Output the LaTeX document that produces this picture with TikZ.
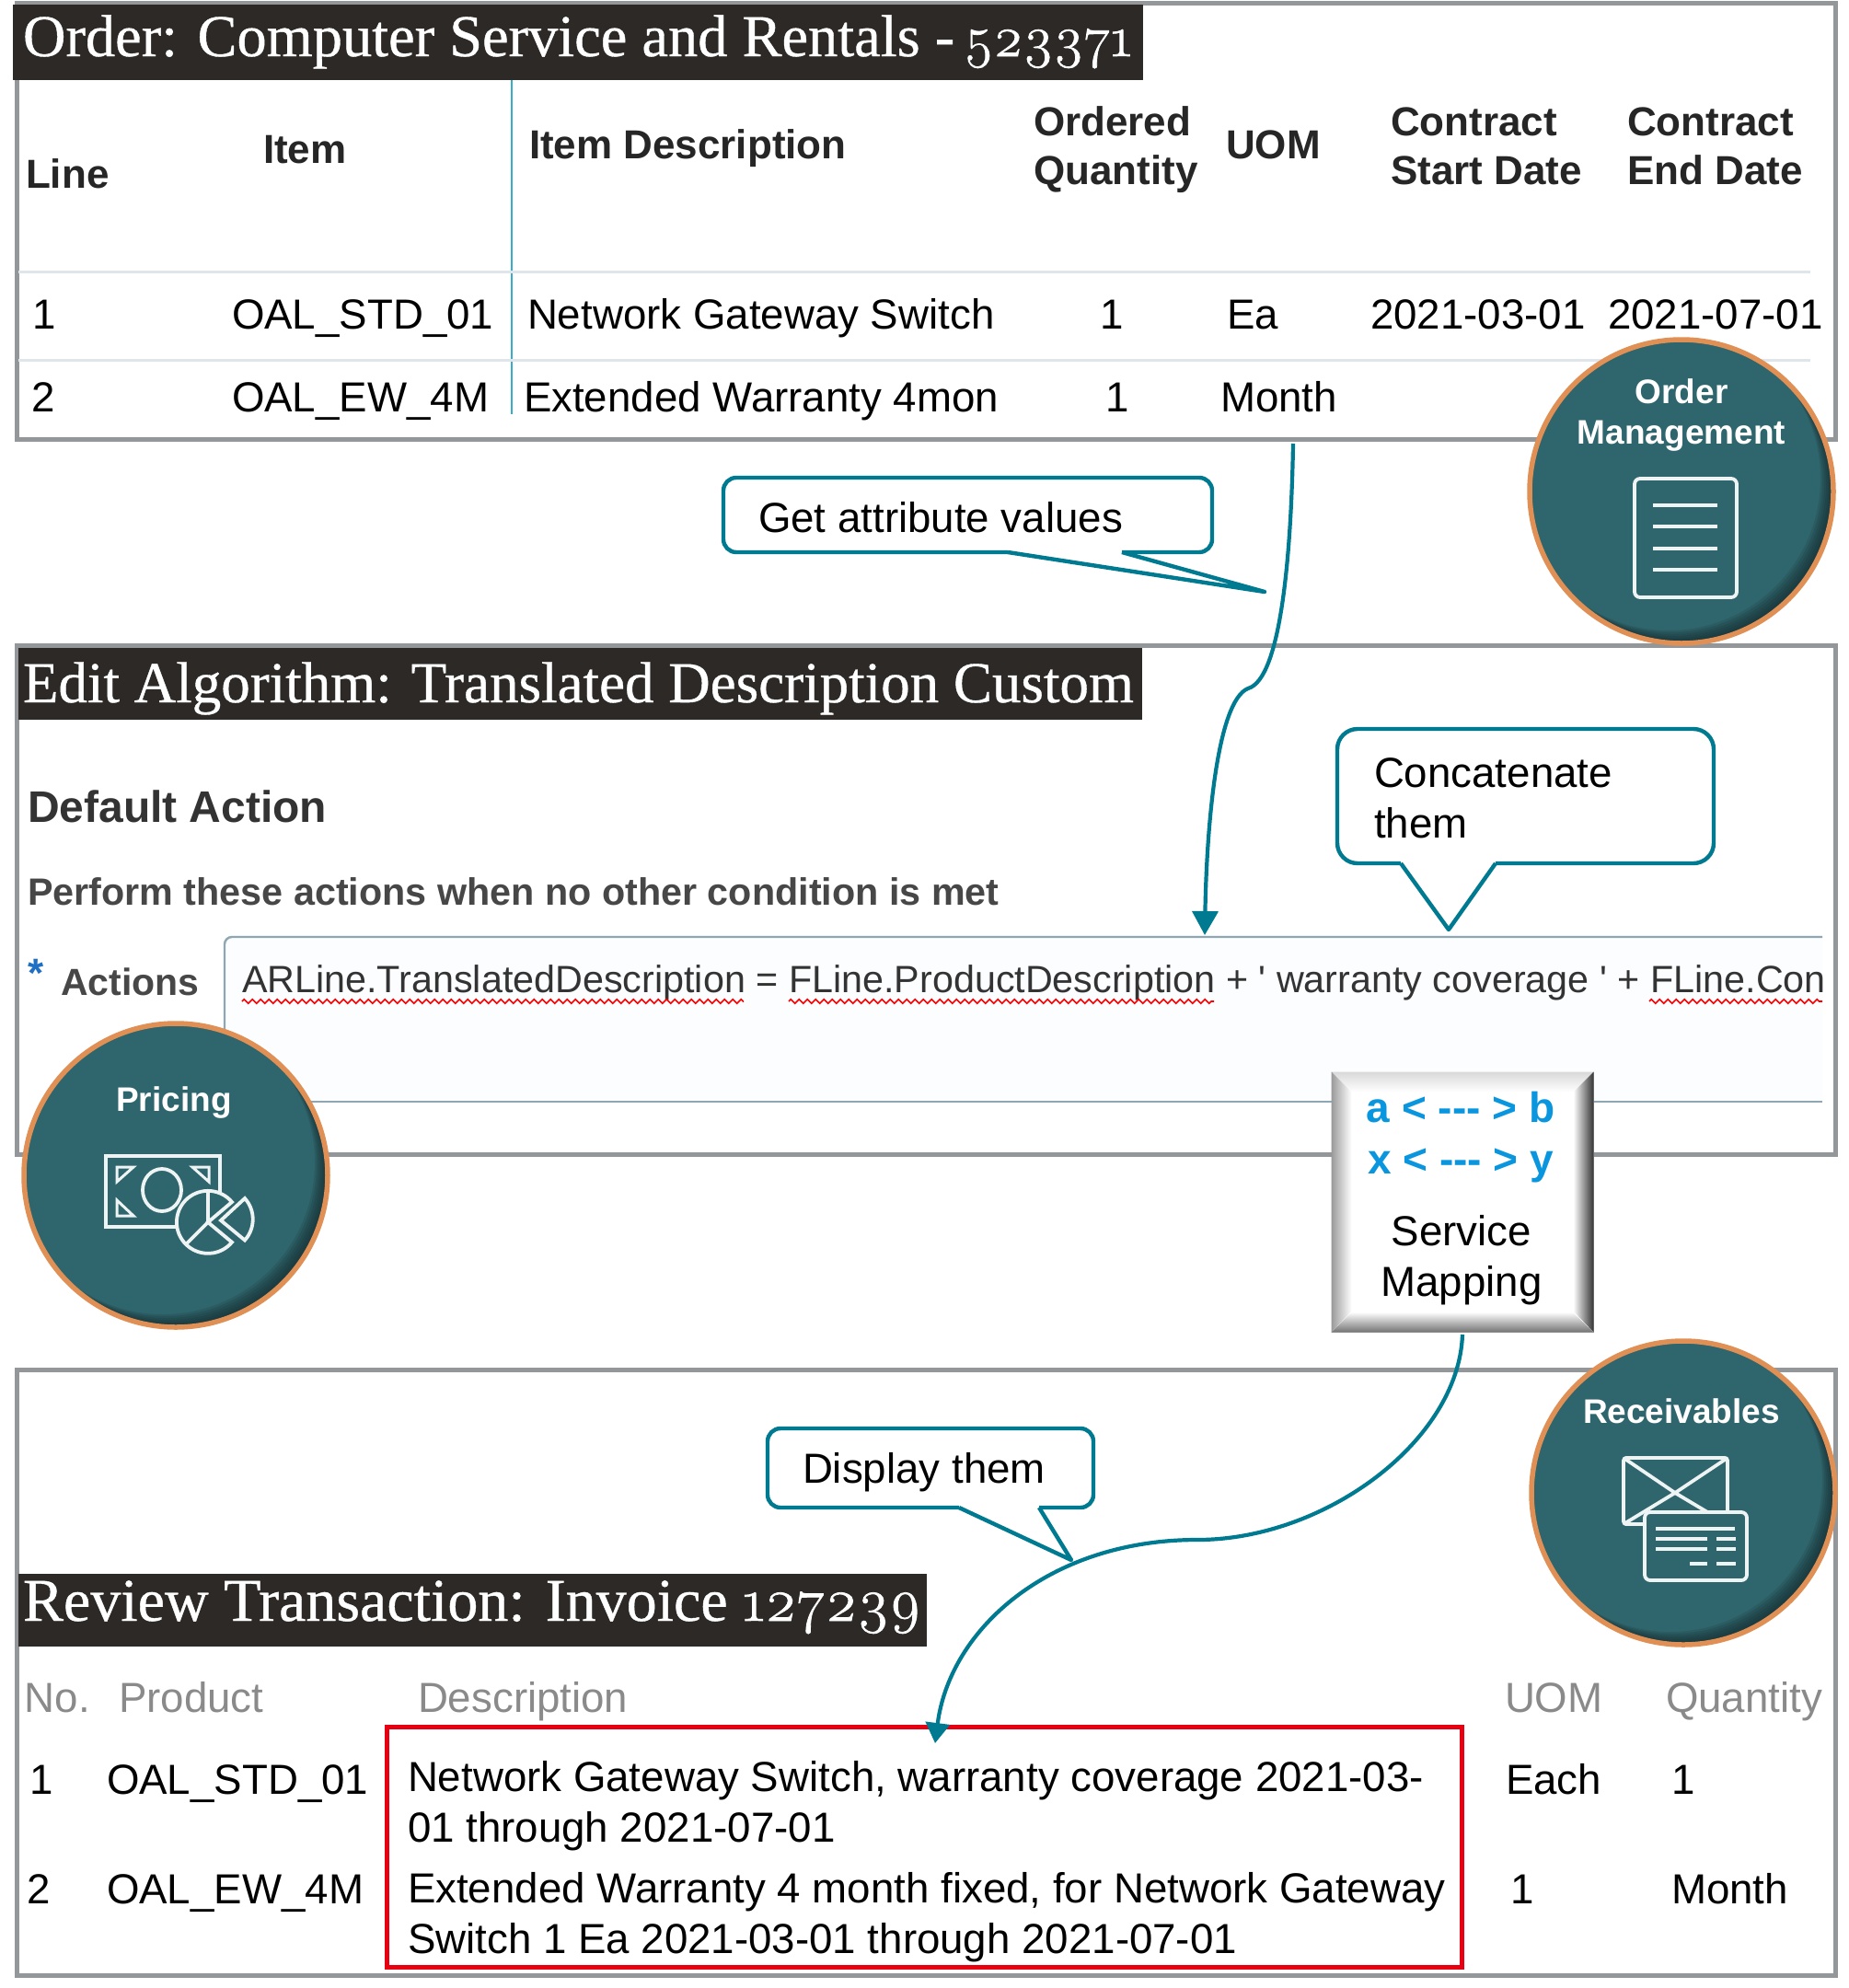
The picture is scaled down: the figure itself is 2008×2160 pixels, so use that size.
\documentclass[tikz,border=0pt]{standalone}
\usepackage{fontspec}
\setmainfont{Liberation Sans}
\newfontfamily\plainsans{Liberation Sans}
\newfontfamily\titlefont[FakeBold=0.6]{Liberation Serif}
\newfontfamily\oldnum[Numbers=OldStyle,FakeBold=1.2]{Latin Modern Roman}
\usetikzlibrary{arrows.meta,decorations.pathmorphing,shapes.geometric}
\definecolor{panelgray}{HTML}{93979A}
\definecolor{bardark}{HTML}{2D2926}
\definecolor{teal1}{HTML}{007A90}
\definecolor{tealfill}{HTML}{2F666D}
\definecolor{tealdark}{HTML}{16292C}
\definecolor{ringorange}{HTML}{E09055}
\definecolor{rowline}{HTML}{DFE6EB}
\definecolor{vline}{HTML}{35AFC9}
\definecolor{boxedge}{HTML}{8FA6B3}
\definecolor{boxfill}{HTML}{FBFDFF}
\definecolor{hdrgray}{HTML}{8A8A8A}
\definecolor{mapblue}{HTML}{0A96DE}
\definecolor{redbox}{HTML}{E60012}
\definecolor{txtdark}{HTML}{333333}
\definecolor{starblue}{HTML}{1F6FC4}
\tikzset{
  x=1pt,y=-1pt,
  panel/.style={draw=panelgray,line width=5pt,fill=white},
  titlebar/.style={fill=bardark,draw=none},
  lab/.style={anchor=base west,inner sep=0pt,outer sep=0pt,text=black,font=\fontsize{45.66}{50}\selectfont},
  hdr/.style={lab,font=\fontsize{44}{48}\selectfont\bfseries,text=black!85},
  ghdr/.style={lab,text=hdrgray},
  ttl/.style={lab,text=white,font=\fontsize{63}{66}\selectfont\titlefont},
  circlab/.style={anchor=base,inner sep=0pt,text=white,font=\fontsize{37}{40}\selectfont\bfseries},
  tealdisc/.style={circle,minimum size=330pt,inner sep=0pt,fill=tealfill},
  icon/.style={draw=white!92!tealfill,line width=3.8pt},
  callout/.style={draw=teal1,line width=4.4pt,fill=white,line join=round},
  conn/.style={draw=teal1,line width=4.2pt},
  wavy/.style={draw=red,line width=1.6pt,decorate,decoration={zigzag,segment length=9pt,amplitude=2.2pt}},
  rowrule/.style={draw=rowline,line width=3pt},
  blu/.style={anchor=base,inner sep=0pt,text=mapblue,font=\fontsize{46}{48}\selectfont\bfseries},
}
\newcommand{\discrim}[1]{%
  \begin{scope}
    \clip (#1.center) circle[radius=165pt];
    \foreach \o in {2,4,6,8,10,12,14}
      \fill[tealdark,opacity=.16,even odd rule] (#1.center) circle[radius=220pt] ([shift={(-\o,-\o)}]#1.center) circle[radius=165pt];
  \end{scope}
  \draw[ringorange,line width=5.5pt] (#1.center) circle[radius=165pt];
}
\begin{document}
\begin{tikzpicture}
\useasboundingbox (0,0) rectangle (2008,2160);
\fill[white] (0,0) rectangle (2008,2160);

% ---------- panel 1
\draw[panel] (18,3) rectangle (1994,477);
\fill[titlebar] (14,5) rectangle (1242,87);
\node[ttl,font=\fontsize{64.4}{66}\selectfont\titlefont] (t1) at (25,61) {Order: Computer Service and Rentals -\kern-6pt{} {\fontsize{62}{66}\selectfont\oldnum 523371}};
\draw[vline,line width=2.4pt] (556,87) -- (556,450);
\draw[rowrule] (20,295) -- (1967,295);
\draw[rowrule] (20,391) -- (1967,391);
\node[hdr] (h1) at (28,204) {Line};
\node[hdr] (h2) at (286,177) {Item};
\node[hdr] (h3) at (575,172) {Item Description};
\node[hdr] (h4a) at (1123,147) {Ordered};
\node[hdr] (h4b) at (1123,200) {Quantity};
\node[hdr] (h5) at (1332,172) {UOM};
\node[hdr] (h6a) at (1511,147) {Contract};
\node[hdr] (h6b) at (1511,200) {Start Date};
\node[hdr] (h7a) at (1768,147) {Contract};
\node[hdr] (h7b) at (1768,200) {End Date};
\node[lab] (r1a) at (35,357) {1};
\node[lab] (r1b) at (252,357) {OAL\_STD\_01};
\node[lab] (r1c) at (573,357) {Network Gateway Switch};
\node[lab] (r1d) at (1195,357) {1};
\node[lab] (r1e) at (1333,357) {Ea};
\node[lab] (r1f) at (1489,357) {2021-03-01};
\node[lab] (r1g) at (1747,357) {2021-07-01};
\node[lab] (r2a) at (34,447) {2};
\node[lab] (r2b) at (252,447) {OAL\_EW\_4M};
\node[lab] (r2c) at (569,447) {Extended Warranty 4mon};
\node[lab] (r2d) at (1201,447) {1};
\node[lab] (r2e) at (1326,447) {Month};

% ---------- panel 2
\draw[panel] (18,701) rectangle (1994,1254);
\fill[titlebar] (20,704) rectangle (1241,782);
\node[ttl] (t2) at (25,763) {Edit Algorithm: Translated Description Custom};
\node[lab,text=txtdark,font=\fontsize{48}{50}\selectfont\bfseries] (d1) at (30,893) {Default Action};
\node[lab,text=black!72,font=\fontsize{41.3}{44}\selectfont\bfseries] (d2) at (30,983) {Perform these actions when no other condition is met};
\node[lab,text=starblue,font=\fontsize{44}{44}\selectfont\bfseries] (star) at (30,1072) {*};
\node[lab,text=black!72,font=\fontsize{41}{44}\selectfont\bfseries] (d3) at (66,1081) {Actions};
\path[fill=boxfill] (244,1197) -- (244,1024) -- (250,1018) -- (1980,1018) -- (1980,1197) -- cycle;
\draw[boxedge,line width=2.4pt] (244,1197) -- (244,1026) arc[start angle=180,end angle=90,radius=8pt] -- (1980,1018);
\draw[boxedge,line width=2.4pt] (244,1197) -- (1980,1197);
\node[lab,text=txtdark,font=\fontsize{41.3}{46}\selectfont\plainsans] (d4) at (263,1078) {ARLine.TranslatedDescription = FLine.ProductDescription + ' warranty coverage ' + FLine.Con};
\draw[wavy] (263,1088) -- (808,1088);
\draw[wavy] (857,1088) -- (1319,1088);
\draw[wavy] (1792,1088) -- (1980,1088);

% ---------- panel 3
\draw[panel] (18,1488) rectangle (1994,2146);
\fill[titlebar] (20,1710) rectangle (1007,1789);
\node[ttl,font=\fontsize{66}{68}\selectfont\titlefont] (t3) at (25,1761) {Review Transaction: Invoice {\oldnum 127239}};
\node[ghdr] (g1) at (27,1860) {No.};
\node[ghdr] (g2) at (129,1860) {Product};
\node[ghdr] (g3) at (454,1860) {Description};
\node[ghdr] (g4) at (1635,1860) {UOM};
\node[ghdr] (g5) at (1810,1860) {Quantity};
\draw[draw=redbox,line width=5pt] (420,1876) rectangle (1588,2137);
\node[lab] (s1a) at (32,1949) {1};
\node[lab] (s1b) at (116,1949) {OAL\_STD\_01};
\node[lab] (s1c) at (443,1946) {Network Gateway Switch, warranty coverage 2021-03-};
\node[lab] (s1d) at (443,2001) {01 through 2021-07-01};
\node[lab] (s1e) at (1636,1949) {Each};
\node[lab] (s1f) at (1816,1949) {1};
\node[lab] (s2a) at (29,2068) {2};
\node[lab] (s2b) at (116,2068) {OAL\_EW\_4M};
\node[lab] (s2c) at (443,2067) {Extended Warranty 4 month fixed, for Network Gateway};
\node[lab] (s2d) at (443,2122) {Switch 1 Ea 2021-03-01 through 2021-07-01};
\node[lab] (s2e) at (1641,2068) {1};
\node[lab] (s2f) at (1816,2068) {Month};

% ---------- callouts
\draw[callout,rounded corners=14pt] (786,519) rectangle (1317,600);
\fill[white] (1095,595) -- (1219,595) -- (1219,603) -- (1095,603) -- cycle;
\draw[callout] (1095,600) -- (1374,643) -- (1219,600);
\node[lab] (c1) at (824,578) {Get attribute values};

\draw[callout,rounded corners=22pt] (1453,792) rectangle (1862,938);
\fill[white] (1522,933) -- (1625,933) -- (1625,941) -- (1522,941) -- cycle;
\draw[callout] (1522,938) -- (1574,1010) -- (1625,938);
\node[lab] (c2a) at (1493,855) {Concatenate};
\node[lab] (c2b) at (1493,910) {them};

\draw[callout,rounded corners=14pt] (834,1552) rectangle (1188,1638);
\fill[white] (1042,1633) -- (1129,1633) -- (1129,1641) -- (1042,1641) -- cycle;
\draw[callout] (1042,1638) -- (1164,1695) -- (1129,1638);
\node[lab] (c3) at (872,1611) {Display them};

% ---------- service mapping box
\node[inner sep=0pt,minimum width=284pt,minimum height=282pt,fill=white,draw=black!25,line width=1pt] (svc) at (1589,1306) {};
\path[top color=black!15,bottom color=white] (svc.north west) -- (svc.north east) -- ++(-22,22) -- ++(-240,0) -- cycle;
\path[left color=black!40,right color=white] (svc.north west) -- ++(22,22) -- ++(0,238) -- (svc.south west) -- cycle;
\path[left color=white,right color=black!80] (svc.north east) -- ++(-22,22) -- ++(0,238) -- (svc.south east) -- cycle;
\path[top color=white,bottom color=black!55] (svc.south west) -- ++(22,-22) -- ++(240,0) -- (svc.south east) -- cycle;
\node[blu] (m1) at (1587,1219) {a < -{}-{}- > b};
\node[blu] (m2) at (1587,1275) {x < -{}-{}- > y};
\node[lab,anchor=base] (m3) at (1588,1353) {Service};
\node[lab,anchor=base] (m4) at (1588,1408) {Mapping};

% ---------- connectors
\coordinate (a0) at (1405,482);
\coordinate (a1) at (1356,748);
\coordinate (a2) at (1309,1016);
\draw[conn,-{Triangle[width=28pt,length=26pt]}] (a0) .. controls (1403,600) and (1392,738) .. (a1) .. controls (1322,762) and (1311,900) .. (a2);
\coordinate (b0) at (1589,1450);
\coordinate (b1) at (1301,1673);
\coordinate (b2) at (1016,1894);
\draw[conn,-{Triangle[width=26pt,length=22pt]}] (b0) .. controls (1585,1565) and (1440,1673) .. (b1) .. controls (1140,1673) and (1032,1770) .. (b2);

% ---------- order management
\node[tealdisc] (om) at (1827,534) {};
\discrim{om}
\node[circlab] (om1) at (1827,438) {Order};
\node[circlab] (om2) at (1827,482) {Management};
\draw[icon,rounded corners=6pt] (1776,520) rectangle (1887,649);
\draw[icon] (1796,549) -- (1866,549);
\draw[icon] (1796,572) -- (1866,572);
\draw[icon] (1796,596) -- (1866,596);
\draw[icon] (1796,619) -- (1866,619);

% ---------- pricing
\node[tealdisc] (pr) at (191,1277) {};
\discrim{pr}
\node[circlab] (pr1) at (189,1207) {Pricing};
\draw[icon] (115,1256) rectangle (239,1333);
\draw[icon] (176,1293) ellipse[x radius=21pt,y radius=23pt];
\draw[icon,line width=3pt] (127,1268) -- (145,1268) -- (127,1284) -- cycle;
\draw[icon,line width=3pt] (227,1268) -- (209,1268) -- (227,1284) -- cycle;
\draw[icon,line width=3pt] (127,1321) -- (145,1321) -- (127,1304) -- cycle;
\fill[tealfill] (226,1328) circle[radius=34pt];
\draw[icon] (226,1328) -- (252,1306) arc[start angle=40,end angle=320,radius=34pt] -- cycle;
\draw[icon] (226,1328) -- (226,1294);
\draw[icon] (226,1328) -- (202,1352);
\draw[icon] (240,1326) -- (266,1302) arc[start angle=42,end angle=-42,radius=34pt] -- cycle;

% ---------- receivables
\node[tealdisc] (rc) at (1829,1622) {};
\discrim{rc}
\node[circlab] (rc1) at (1827,1546) {Receivables};
\begin{scope}[xshift=-8pt]
\draw[icon,rounded corners=3pt] (1772,1584) rectangle (1885,1656);
\draw[icon] (1772,1584) -- (1828,1622) -- (1885,1584);
\draw[icon] (1772,1656) -- (1828,1622) -- (1885,1656);
\fill[tealfill,rounded corners=6pt] (1795,1643) rectangle (1906,1717);
\draw[icon,rounded corners=6pt] (1795,1643) rectangle (1906,1717);
\draw[icon] (1807,1661) -- (1893,1661);
\draw[icon] (1807,1672) -- (1863,1672);
\draw[icon] (1873,1672) -- (1894,1672);
\draw[icon] (1807,1683) -- (1863,1683);
\draw[icon] (1873,1683) -- (1894,1683);
\draw[icon] (1844,1699) -- (1863,1699);
\draw[icon] (1873,1699) -- (1894,1699);
\end{scope}
\end{tikzpicture}
\end{document}
